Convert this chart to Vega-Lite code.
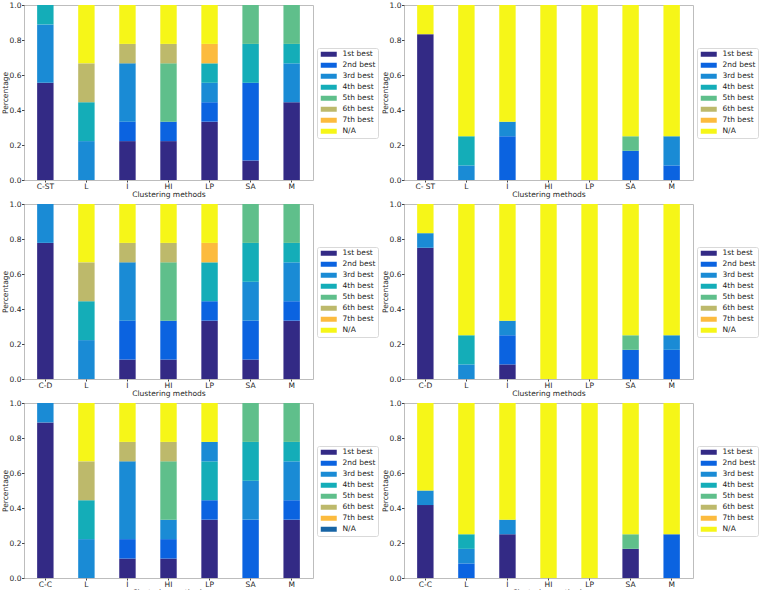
{
"$schema": "https://vega.github.io/schema/vega-lite/v6.json",
"padding": {"left": 0, "top": 0, "right": 0, "bottom": 0},
"background": "white",
"config": {
  "font": "DejaVu Sans",
  "view": {"stroke": "#bdbdbd", "strokeWidth": 1},
  "axis": {"domain": false, "grid": false, "labelFont": "DejaVu Sans", "labelFontSize": 7.5, "labelColor": "#262626", "tickColor": "#444444", "tickSize": 2.5, "labelPadding": 0.5, "titleFont": "DejaVu Sans", "titleFontSize": 7.5, "titleFontWeight": "normal", "titleColor": "#262626", "titlePadding": 0},
  "axisX": {"labelAngle": 0, "titlePadding": 0.5, "tickSize": 2},
  "axisY": {"labelFlush": false},
  "legend": {"title": null, "orient": "none", "legendX": 293, "legendY": 43, "symbolType": "M-1,-1H5.4V1H-1Z", "symbolSize": 25, "labelOffset": 15.5, "padding": 2.5, "rowPadding": 2, "strokeColor": "#d9d9d9", "fillColor": "white", "cornerRadius": 2, "labelFont": "DejaVu Sans", "labelFontSize": 7.5, "labelColor": "#222222", "symbolStrokeWidth": 0, "symbolOpacity": 1}
},
"datasets": {
  "p1": [
    {"method": "C-ST", "rank": "1st best", "share": 0.5556},
    {"method": "C-ST", "rank": "3rd best", "share": 0.3333},
    {"method": "C-ST", "rank": "4th best", "share": 0.1111},
    {"method": "L", "rank": "3rd best", "share": 0.2222},
    {"method": "L", "rank": "4th best", "share": 0.2222},
    {"method": "L", "rank": "6th best", "share": 0.2222},
    {"method": "L", "rank": "N/A", "share": 0.3334},
    {"method": "I", "rank": "1st best", "share": 0.2222},
    {"method": "I", "rank": "2nd best", "share": 0.1111},
    {"method": "I", "rank": "3rd best", "share": 0.3333},
    {"method": "I", "rank": "6th best", "share": 0.1111},
    {"method": "I", "rank": "N/A", "share": 0.2223},
    {"method": "HI", "rank": "1st best", "share": 0.2222},
    {"method": "HI", "rank": "2nd best", "share": 0.1111},
    {"method": "HI", "rank": "5th best", "share": 0.3333},
    {"method": "HI", "rank": "6th best", "share": 0.1111},
    {"method": "HI", "rank": "N/A", "share": 0.2223},
    {"method": "LP", "rank": "1st best", "share": 0.3333},
    {"method": "LP", "rank": "2nd best", "share": 0.1111},
    {"method": "LP", "rank": "3rd best", "share": 0.1111},
    {"method": "LP", "rank": "4th best", "share": 0.1111},
    {"method": "LP", "rank": "7th best", "share": 0.1111},
    {"method": "LP", "rank": "N/A", "share": 0.2223},
    {"method": "SA", "rank": "1st best", "share": 0.1111},
    {"method": "SA", "rank": "2nd best", "share": 0.4444},
    {"method": "SA", "rank": "4th best", "share": 0.2222},
    {"method": "SA", "rank": "5th best", "share": 0.2223},
    {"method": "M", "rank": "1st best", "share": 0.4444},
    {"method": "M", "rank": "3rd best", "share": 0.2222},
    {"method": "M", "rank": "4th best", "share": 0.1111},
    {"method": "M", "rank": "5th best", "share": 0.2223}
  ],
  "p2": [
    {"method": "C- ST", "rank": "1st best", "share": 0.8333},
    {"method": "C- ST", "rank": "N/A", "share": 0.1667},
    {"method": "L", "rank": "3rd best", "share": 0.0833},
    {"method": "L", "rank": "4th best", "share": 0.1667},
    {"method": "L", "rank": "N/A", "share": 0.75},
    {"method": "I", "rank": "2nd best", "share": 0.25},
    {"method": "I", "rank": "3rd best", "share": 0.0833},
    {"method": "I", "rank": "N/A", "share": 0.6667},
    {"method": "HI", "rank": "N/A", "share": 1},
    {"method": "LP", "rank": "N/A", "share": 1},
    {"method": "SA", "rank": "2nd best", "share": 0.1667},
    {"method": "SA", "rank": "5th best", "share": 0.0833},
    {"method": "SA", "rank": "N/A", "share": 0.75},
    {"method": "M", "rank": "2nd best", "share": 0.0833},
    {"method": "M", "rank": "3rd best", "share": 0.1667},
    {"method": "M", "rank": "N/A", "share": 0.75}
  ],
  "p3": [
    {"method": "C-D", "rank": "1st best", "share": 0.7778},
    {"method": "C-D", "rank": "3rd best", "share": 0.2222},
    {"method": "L", "rank": "3rd best", "share": 0.2222},
    {"method": "L", "rank": "4th best", "share": 0.2222},
    {"method": "L", "rank": "6th best", "share": 0.2222},
    {"method": "L", "rank": "N/A", "share": 0.3334},
    {"method": "I", "rank": "1st best", "share": 0.1111},
    {"method": "I", "rank": "2nd best", "share": 0.2222},
    {"method": "I", "rank": "3rd best", "share": 0.3333},
    {"method": "I", "rank": "6th best", "share": 0.1111},
    {"method": "I", "rank": "N/A", "share": 0.2223},
    {"method": "HI", "rank": "1st best", "share": 0.1111},
    {"method": "HI", "rank": "2nd best", "share": 0.2222},
    {"method": "HI", "rank": "5th best", "share": 0.3333},
    {"method": "HI", "rank": "6th best", "share": 0.1111},
    {"method": "HI", "rank": "N/A", "share": 0.2223},
    {"method": "LP", "rank": "1st best", "share": 0.3333},
    {"method": "LP", "rank": "2nd best", "share": 0.1111},
    {"method": "LP", "rank": "4th best", "share": 0.2222},
    {"method": "LP", "rank": "7th best", "share": 0.1111},
    {"method": "LP", "rank": "N/A", "share": 0.2223},
    {"method": "SA", "rank": "1st best", "share": 0.1111},
    {"method": "SA", "rank": "2nd best", "share": 0.2222},
    {"method": "SA", "rank": "3rd best", "share": 0.2222},
    {"method": "SA", "rank": "4th best", "share": 0.2222},
    {"method": "SA", "rank": "5th best", "share": 0.2223},
    {"method": "M", "rank": "1st best", "share": 0.3333},
    {"method": "M", "rank": "2nd best", "share": 0.1111},
    {"method": "M", "rank": "3rd best", "share": 0.2222},
    {"method": "M", "rank": "4th best", "share": 0.1111},
    {"method": "M", "rank": "5th best", "share": 0.2223}
  ],
  "p4": [
    {"method": "C-D", "rank": "1st best", "share": 0.75},
    {"method": "C-D", "rank": "3rd best", "share": 0.0833},
    {"method": "C-D", "rank": "N/A", "share": 0.1667},
    {"method": "L", "rank": "3rd best", "share": 0.0833},
    {"method": "L", "rank": "4th best", "share": 0.1667},
    {"method": "L", "rank": "N/A", "share": 0.75},
    {"method": "I", "rank": "1st best", "share": 0.0833},
    {"method": "I", "rank": "2nd best", "share": 0.1667},
    {"method": "I", "rank": "3rd best", "share": 0.0833},
    {"method": "I", "rank": "N/A", "share": 0.6667},
    {"method": "HI", "rank": "N/A", "share": 1},
    {"method": "LP", "rank": "N/A", "share": 1},
    {"method": "SA", "rank": "2nd best", "share": 0.1667},
    {"method": "SA", "rank": "5th best", "share": 0.0833},
    {"method": "SA", "rank": "N/A", "share": 0.75},
    {"method": "M", "rank": "2nd best", "share": 0.1667},
    {"method": "M", "rank": "3rd best", "share": 0.0833},
    {"method": "M", "rank": "N/A", "share": 0.75}
  ],
  "p5": [
    {"method": "C-C", "rank": "1st best", "share": 0.8889},
    {"method": "C-C", "rank": "3rd best", "share": 0.1111},
    {"method": "L", "rank": "3rd best", "share": 0.2222},
    {"method": "L", "rank": "4th best", "share": 0.2222},
    {"method": "L", "rank": "6th best", "share": 0.2222},
    {"method": "L", "rank": "unlabelled", "share": 0.3334},
    {"method": "I", "rank": "1st best", "share": 0.1111},
    {"method": "I", "rank": "2nd best", "share": 0.1111},
    {"method": "I", "rank": "3rd best", "share": 0.4444},
    {"method": "I", "rank": "6th best", "share": 0.1111},
    {"method": "I", "rank": "unlabelled", "share": 0.2223},
    {"method": "HI", "rank": "1st best", "share": 0.1111},
    {"method": "HI", "rank": "2nd best", "share": 0.1111},
    {"method": "HI", "rank": "3rd best", "share": 0.1111},
    {"method": "HI", "rank": "5th best", "share": 0.3333},
    {"method": "HI", "rank": "6th best", "share": 0.1111},
    {"method": "HI", "rank": "unlabelled", "share": 0.2223},
    {"method": "LP", "rank": "1st best", "share": 0.3333},
    {"method": "LP", "rank": "2nd best", "share": 0.1111},
    {"method": "LP", "rank": "4th best", "share": 0.2222},
    {"method": "LP", "rank": "3rd best", "share": 0.1111},
    {"method": "LP", "rank": "unlabelled", "share": 0.2223},
    {"method": "SA", "rank": "2nd best", "share": 0.3333},
    {"method": "SA", "rank": "3rd best", "share": 0.2222},
    {"method": "SA", "rank": "4th best", "share": 0.2222},
    {"method": "SA", "rank": "5th best", "share": 0.2223},
    {"method": "M", "rank": "1st best", "share": 0.3333},
    {"method": "M", "rank": "2nd best", "share": 0.1111},
    {"method": "M", "rank": "3rd best", "share": 0.2222},
    {"method": "M", "rank": "4th best", "share": 0.1111},
    {"method": "M", "rank": "5th best", "share": 0.2223}
  ],
  "p6": [
    {"method": "C-C", "rank": "1st best", "share": 0.4167},
    {"method": "C-C", "rank": "3rd best", "share": 0.0833},
    {"method": "C-C", "rank": "N/A", "share": 0.5},
    {"method": "L", "rank": "2nd best", "share": 0.0833},
    {"method": "L", "rank": "3rd best", "share": 0.0833},
    {"method": "L", "rank": "4th best", "share": 0.0834},
    {"method": "L", "rank": "N/A", "share": 0.75},
    {"method": "I", "rank": "1st best", "share": 0.25},
    {"method": "I", "rank": "3rd best", "share": 0.0833},
    {"method": "I", "rank": "N/A", "share": 0.6667},
    {"method": "HI", "rank": "N/A", "share": 1},
    {"method": "LP", "rank": "N/A", "share": 1},
    {"method": "SA", "rank": "1st best", "share": 0.1667},
    {"method": "SA", "rank": "5th best", "share": 0.0833},
    {"method": "SA", "rank": "N/A", "share": 0.75},
    {"method": "M", "rank": "2nd best", "share": 0.25},
    {"method": "M", "rank": "N/A", "share": 0.75}
  ]
},
"columns": 2,
"bounds": "flush",
"spacing": {"row": 24, "column": 91},
"resolve": {"scale": {"x": "independent", "y": "independent", "color": "independent"}, "axis": {"x": "independent", "y": "independent"}, "legend": {"color": "independent"}},
"concat": [
  {
    "width": 289, "height": 175, "data": {"name": "p1"},
    "transform": [{"window": [{"op": "row_number", "as": "seq"}], "groupby": ["method"]}],
    "mark": {"type": "bar"},
    "encoding": {
      "x": {"field": "method", "type": "nominal", "sort": null, "scale": {"domain": ["C-ST", "L", "I", "HI", "LP", "SA", "M"], "paddingInner": 0.6, "paddingOuter": 0.32}, "axis": {"title": "Clustering methods"}},
      "y": {"field": "share", "type": "quantitative", "stack": "zero", "scale": {"domain": [0, 1], "nice": false}, "axis": {"values": [0, 0.2, 0.4, 0.6, 0.8, 1], "format": ".1f", "title": "Percentage"}},
      "color": {"field": "rank", "type": "nominal", "scale": {"domain": ["1st best", "2nd best", "3rd best", "4th best", "5th best", "6th best", "7th best", "N/A"], "range": ["#332a85", "#0b63e0", "#1a8bd5", "#14adb8", "#5fbf8b", "#bdb96b", "#fcbb3e", "#f6f618"]}},
      "order": {"field": "seq", "type": "quantitative"}
    }
  },
  {
    "width": 289, "height": 175, "data": {"name": "p2"},
    "transform": [{"window": [{"op": "row_number", "as": "seq"}], "groupby": ["method"]}],
    "mark": {"type": "bar"},
    "encoding": {
      "x": {"field": "method", "type": "nominal", "sort": null, "scale": {"domain": ["C- ST", "L", "I", "HI", "LP", "SA", "M"], "paddingInner": 0.6, "paddingOuter": 0.32}, "axis": {"title": "Clustering methods"}},
      "y": {"field": "share", "type": "quantitative", "stack": "zero", "scale": {"domain": [0, 1], "nice": false}, "axis": {"values": [0, 0.2, 0.4, 0.6, 0.8, 1], "format": ".1f", "title": "Percentage"}},
      "color": {"field": "rank", "type": "nominal", "scale": {"domain": ["1st best", "2nd best", "3rd best", "4th best", "5th best", "6th best", "7th best", "N/A"], "range": ["#332a85", "#0b63e0", "#1a8bd5", "#14adb8", "#5fbf8b", "#bdb96b", "#fcbb3e", "#f6f618"]}},
      "order": {"field": "seq", "type": "quantitative"}
    }
  },
  {
    "width": 289, "height": 175, "data": {"name": "p3"},
    "transform": [{"window": [{"op": "row_number", "as": "seq"}], "groupby": ["method"]}],
    "mark": {"type": "bar"},
    "encoding": {
      "x": {"field": "method", "type": "nominal", "sort": null, "scale": {"domain": ["C-D", "L", "I", "HI", "LP", "SA", "M"], "paddingInner": 0.6, "paddingOuter": 0.32}, "axis": {"title": "Clustering methods"}},
      "y": {"field": "share", "type": "quantitative", "stack": "zero", "scale": {"domain": [0, 1], "nice": false}, "axis": {"values": [0, 0.2, 0.4, 0.6, 0.8, 1], "format": ".1f", "title": "Percentage"}},
      "color": {"field": "rank", "type": "nominal", "scale": {"domain": ["1st best", "2nd best", "3rd best", "4th best", "5th best", "6th best", "7th best", "N/A"], "range": ["#332a85", "#0b63e0", "#1a8bd5", "#14adb8", "#5fbf8b", "#bdb96b", "#fcbb3e", "#f6f618"]}},
      "order": {"field": "seq", "type": "quantitative"}
    }
  },
  {
    "width": 289, "height": 175, "data": {"name": "p4"},
    "transform": [{"window": [{"op": "row_number", "as": "seq"}], "groupby": ["method"]}],
    "mark": {"type": "bar"},
    "encoding": {
      "x": {"field": "method", "type": "nominal", "sort": null, "scale": {"domain": ["C-D", "L", "I", "HI", "LP", "SA", "M"], "paddingInner": 0.6, "paddingOuter": 0.32}, "axis": {"title": "Clustering methods"}},
      "y": {"field": "share", "type": "quantitative", "stack": "zero", "scale": {"domain": [0, 1], "nice": false}, "axis": {"values": [0, 0.2, 0.4, 0.6, 0.8, 1], "format": ".1f", "title": "Percentage"}},
      "color": {"field": "rank", "type": "nominal", "scale": {"domain": ["1st best", "2nd best", "3rd best", "4th best", "5th best", "6th best", "7th best", "N/A"], "range": ["#332a85", "#0b63e0", "#1a8bd5", "#14adb8", "#5fbf8b", "#bdb96b", "#fcbb3e", "#f6f618"]}},
      "order": {"field": "seq", "type": "quantitative"}
    }
  },
  {
    "width": 289, "height": 175, "data": {"name": "p5"},
    "transform": [{"window": [{"op": "row_number", "as": "seq"}], "groupby": ["method"]}],
    "mark": {"type": "bar"},
    "encoding": {
      "x": {"field": "method", "type": "nominal", "sort": null, "scale": {"domain": ["C-C", "L", "I", "HI", "LP", "SA", "M"], "paddingInner": 0.6, "paddingOuter": 0.32}, "axis": {"title": "Clustering methods"}},
      "y": {"field": "share", "type": "quantitative", "stack": "zero", "scale": {"domain": [0, 1], "nice": false}, "axis": {"values": [0, 0.2, 0.4, 0.6, 0.8, 1], "format": ".1f", "title": "Percentage"}},
      "color": {"field": "rank", "type": "nominal", "scale": {"domain": ["1st best", "2nd best", "3rd best", "4th best", "5th best", "6th best", "7th best", "N/A", "unlabelled"], "range": ["#332a85", "#0b63e0", "#1a8bd5", "#14adb8", "#5fbf8b", "#bdb96b", "#fcbb3e", "#1764a5", "#f6f618"]}, "legend": {"values": ["1st best", "2nd best", "3rd best", "4th best", "5th best", "6th best", "7th best", "N/A"]}},
      "order": {"field": "seq", "type": "quantitative"}
    }
  },
  {
    "width": 289, "height": 175, "data": {"name": "p6"},
    "transform": [{"window": [{"op": "row_number", "as": "seq"}], "groupby": ["method"]}],
    "mark": {"type": "bar"},
    "encoding": {
      "x": {"field": "method", "type": "nominal", "sort": null, "scale": {"domain": ["C-C", "L", "I", "HI", "LP", "SA", "M"], "paddingInner": 0.6, "paddingOuter": 0.32}, "axis": {"title": "Clustering methods"}},
      "y": {"field": "share", "type": "quantitative", "stack": "zero", "scale": {"domain": [0, 1], "nice": false}, "axis": {"values": [0, 0.2, 0.4, 0.6, 0.8, 1], "format": ".1f", "title": "Percentage"}},
      "color": {"field": "rank", "type": "nominal", "scale": {"domain": ["1st best", "2nd best", "3rd best", "4th best", "5th best", "6th best", "7th best", "N/A"], "range": ["#332a85", "#0b63e0", "#1a8bd5", "#14adb8", "#5fbf8b", "#bdb96b", "#fcbb3e", "#f6f618"]}},
      "order": {"field": "seq", "type": "quantitative"}
    }
  }
]
}
